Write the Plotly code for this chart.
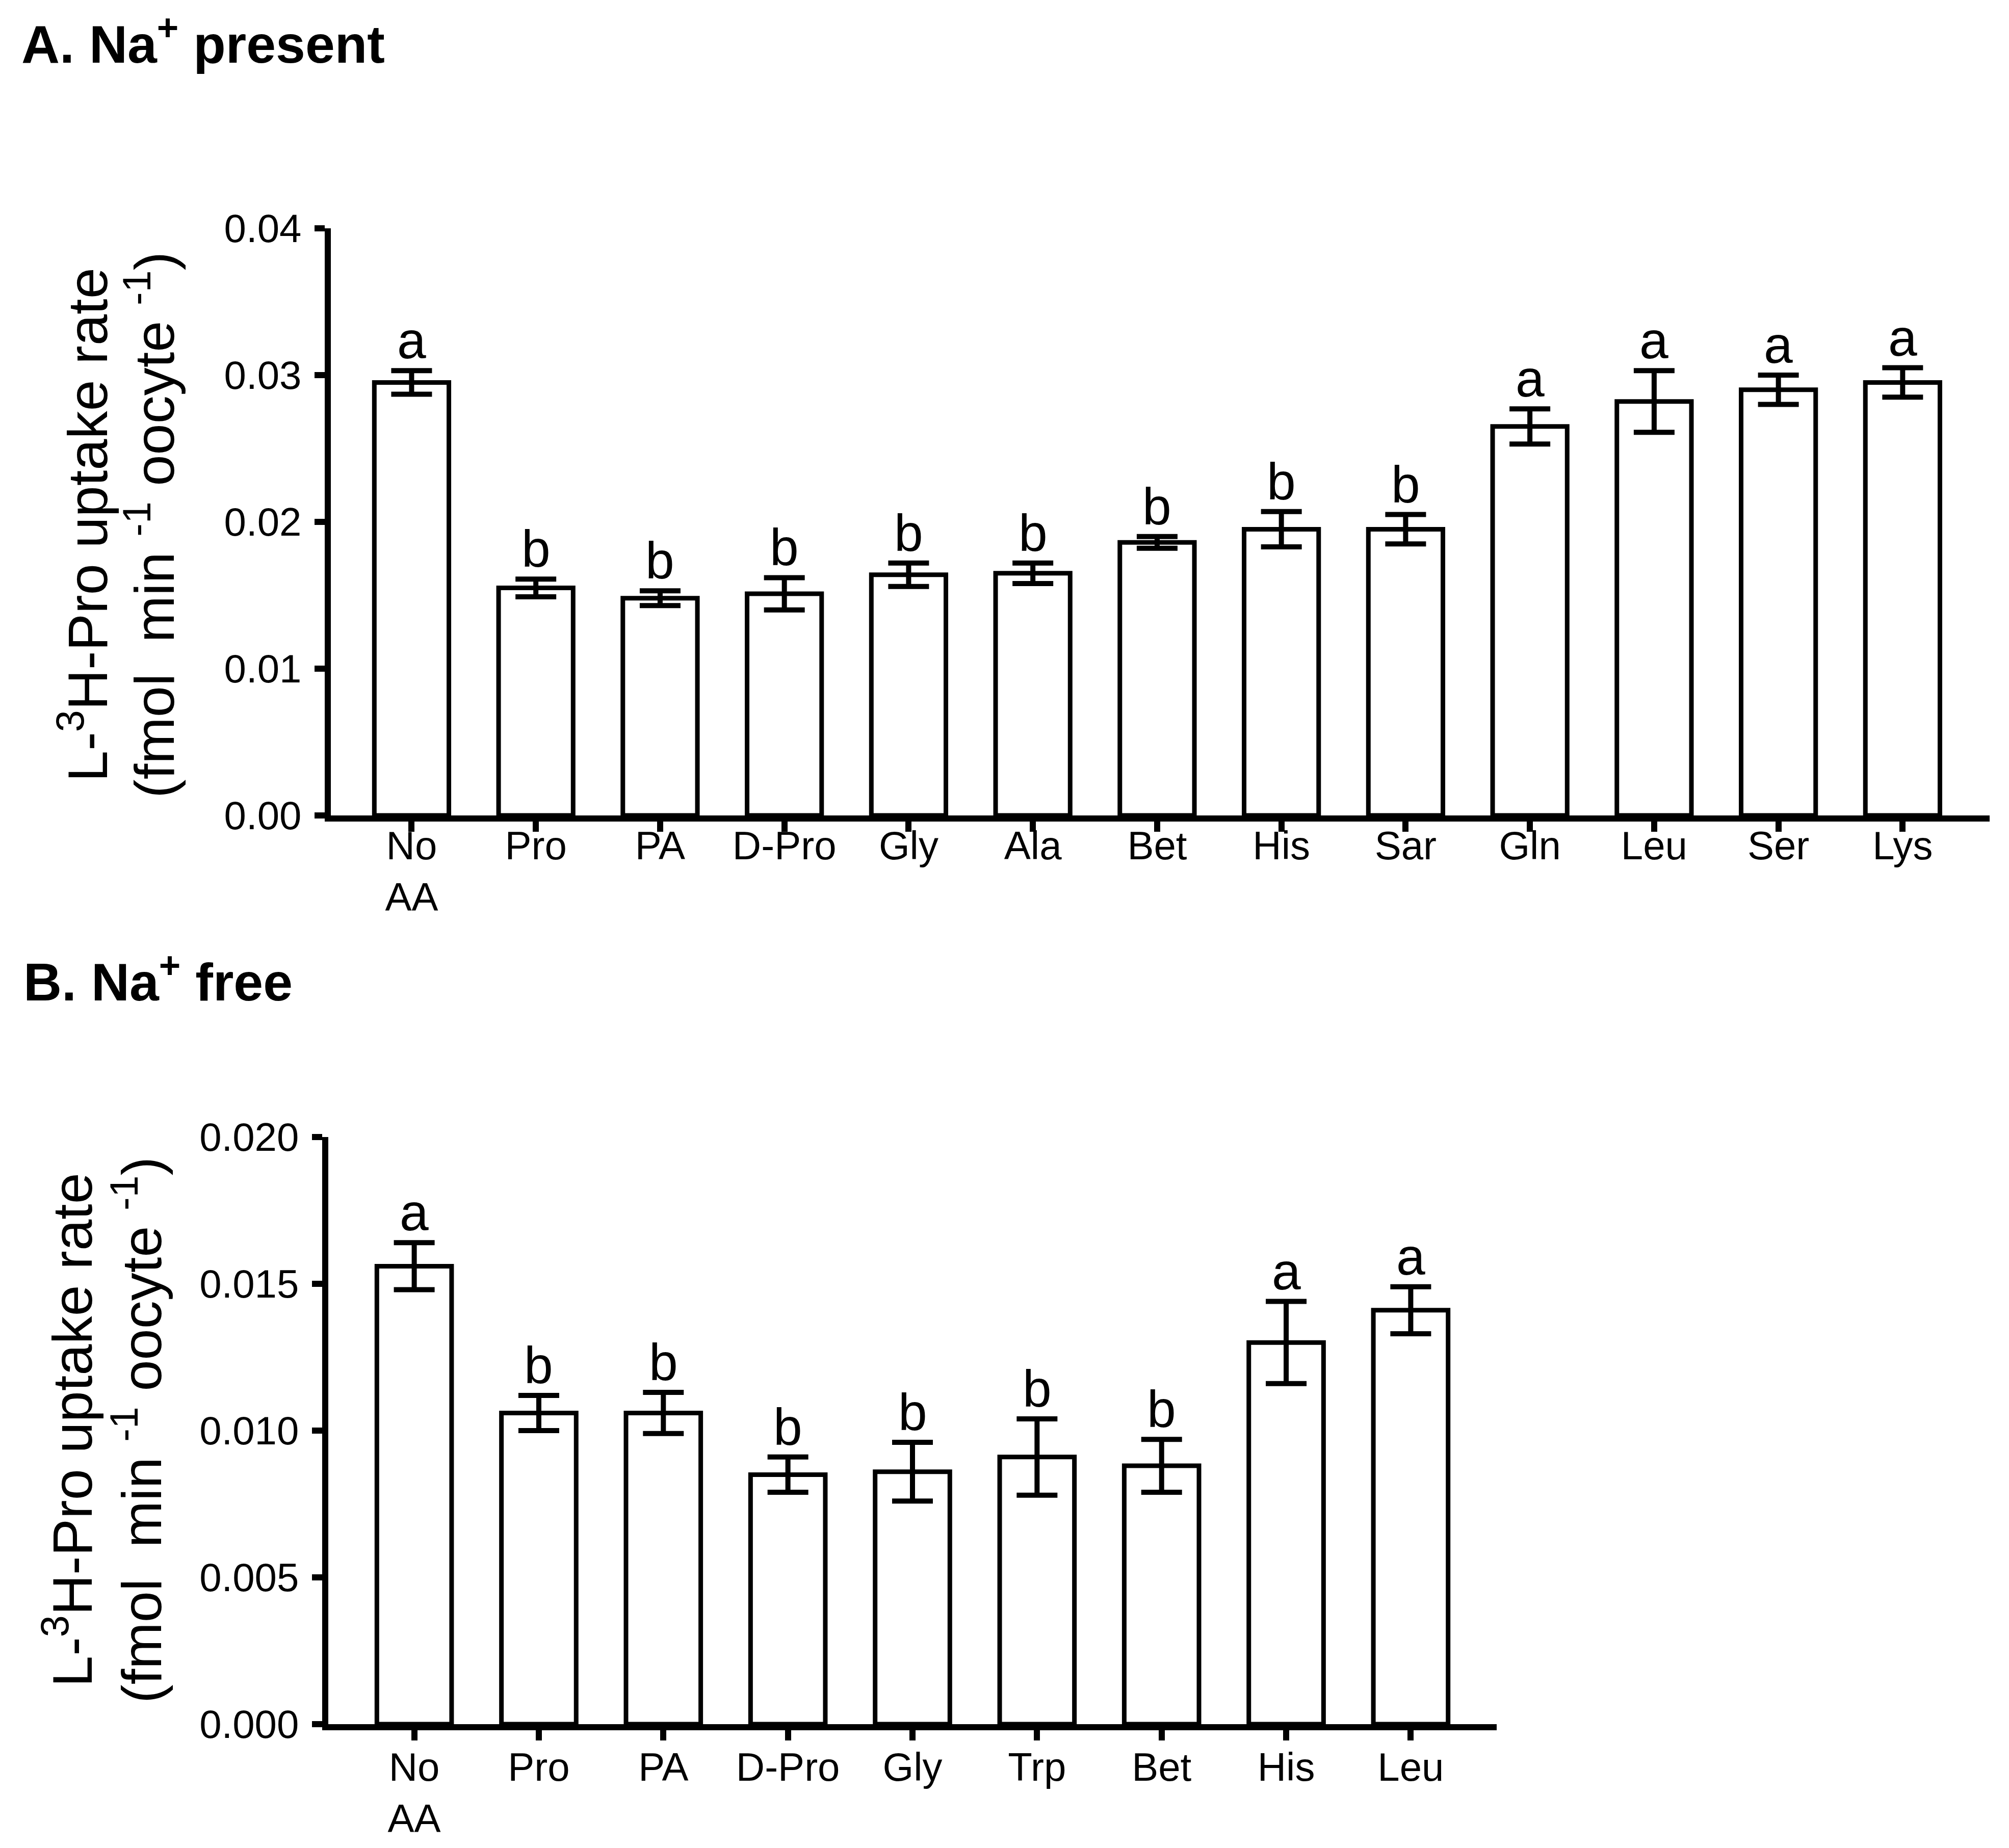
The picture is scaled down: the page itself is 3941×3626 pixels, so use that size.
import plotly.graph_objects as go

# Panel A: Na+ present
cats_a = ["No<br>AA", "Pro", "PA", "D-Pro", "Gly", "Ala", "Bet", "His", "Sar", "Gln", "Leu", "Ser", "Lys"]
vals_a = [0.0295, 0.0155, 0.0148, 0.0151, 0.0164, 0.0165, 0.0186, 0.0195, 0.0195, 0.0265, 0.0282, 0.0290, 0.0295]
err_a = [0.0008, 0.0006, 0.0005, 0.0011, 0.0008, 0.0007, 0.0004, 0.0012, 0.0010, 0.0012, 0.0021, 0.0010, 0.0010]
letters_a = ["a", "b", "b", "b", "b", "b", "b", "b", "b", "a", "a", "a", "a"]

# Panel B: Na+ free
cats_b = ["No<br>AA", "Pro", "PA", "D-Pro", "Gly", "Trp", "Bet", "His", "Leu"]
vals_b = [0.0156, 0.0106, 0.0106, 0.0085, 0.0086, 0.0091, 0.0088, 0.0130, 0.0141]
err_b = [0.0008, 0.0006, 0.0007, 0.0006, 0.0010, 0.0013, 0.0009, 0.0014, 0.0008]
letters_b = ["a", "b", "b", "b", "b", "b", "b", "a", "a"]

FONT = "Liberation Sans, Arial, Helvetica, sans-serif"
W, H = 3941, 3626
OFF_Y = 8  # page offset of the plot div
TICK_SIZE = 78
LETTER_SIZE = 102
TITLE_SIZE = 104
YTITLE_SIZE = 110


def px_x(p):
    return p / W


def px_y(p):
    return 1 - (p - OFF_Y) / H


def bar_trace(cats, vals, errs, xa, ya):
    return go.Bar(
        x=cats, y=vals, xaxis=xa, yaxis=ya,
        width=0.6,
        marker=dict(color="white", line=dict(color="black", width=9)),
        error_y=dict(type="data", array=errs, visible=True,
                     color="black", thickness=10, width=40),
        showlegend=False,
    )


fig = go.Figure()
fig.add_trace(bar_trace(cats_a, vals_a, err_a, "x", "y"))
fig.add_trace(bar_trace(cats_b, vals_b, err_b, "x2", "y2"))

axis_common = dict(
    showline=True, linecolor="black", linewidth=12,
    ticks="outside", ticklen=20, tickwidth=12, tickcolor="black",
    showgrid=False, zeroline=False, automargin=False,
    tickfont=dict(family=FONT, size=TICK_SIZE, color="black"),
)

annotations = []
for cats, vals, errs, letters, xr, yr in [
    (cats_a, vals_a, err_a, letters_a, "x", "y"),
    (cats_b, vals_b, err_b, letters_b, "x2", "y2"),
]:
    for c, v, e, l in zip(cats, vals, errs, letters):
        annotations.append(dict(
            x=c, y=v + e, xref=xr, yref=yr, text=l, showarrow=False,
            xanchor="center", yanchor="bottom",
            font=dict(family=FONT, size=LETTER_SIZE, color="black"),
        ))

# panel titles
annotations.append(dict(
    x=px_x(32), y=px_y(147), xref="paper", yref="paper",
    text="<b>A. Na<sup>+</sup> present</b>", showarrow=False,
    xanchor="left", yanchor="bottom",
    font=dict(family=FONT, size=TITLE_SIZE, color="black"),
))
annotations.append(dict(
    x=px_x(36), y=px_y(1987), xref="paper", yref="paper",
    text="<b>B. Na<sup>+</sup> free</b>", showarrow=False,
    xanchor="left", yanchor="bottom",
    font=dict(family=FONT, size=TITLE_SIZE, color="black"),
))

# y axis titles, one annotation per line
ytitle_1 = "L-<sup>3</sup>H-Pro uptake rate"
ytitle_2 = "(fmol\u00a0 min <sup>-1</sup> oocyte <sup>-1</sup>)"
for x1, x2, yc in [(155, 286, 1030), (125, 261, 2806)]:
    for xc, txt in [(x1, ytitle_1), (x2, ytitle_2)]:
        annotations.append(dict(
            x=px_x(xc), y=px_y(yc), xref="paper", yref="paper",
            text=txt, showarrow=False, textangle=-90,
            xanchor="center", yanchor="middle",
            font=dict(family=FONT, size=YTITLE_SIZE, color="black"),
        ))

fig.update_layout(
    width=W, height=H,
    margin=dict(l=0, r=0, t=0, b=0),
    paper_bgcolor="white", plot_bgcolor="white",
    font=dict(family=FONT, color="black"),
    xaxis=dict(axis_common, domain=[px_x(641), px_x(3895)], anchor="y",
               range=[-0.65, 12.7], type="category", ticklabelstandoff=-40),
    yaxis=dict(axis_common, domain=[px_y(1600), px_y(448)], anchor="x",
               range=[0, 0.04], tickvals=[0, 0.01, 0.02, 0.03, 0.04],
               tickformat=".2f", ticklabelstandoff=10),
    xaxis2=dict(axis_common, domain=[px_x(636), px_x(2928)], anchor="y2",
                range=[-0.69, 8.69], type="category", ticklabelstandoff=-15),
    yaxis2=dict(axis_common, domain=[px_y(3383), px_y(2231)], anchor="x2",
                range=[0, 0.020], tickvals=[0, 0.005, 0.010, 0.015, 0.020],
                tickformat=".3f", ticklabelstandoff=10),
    annotations=annotations,
)

fig.write_html("out.html")
